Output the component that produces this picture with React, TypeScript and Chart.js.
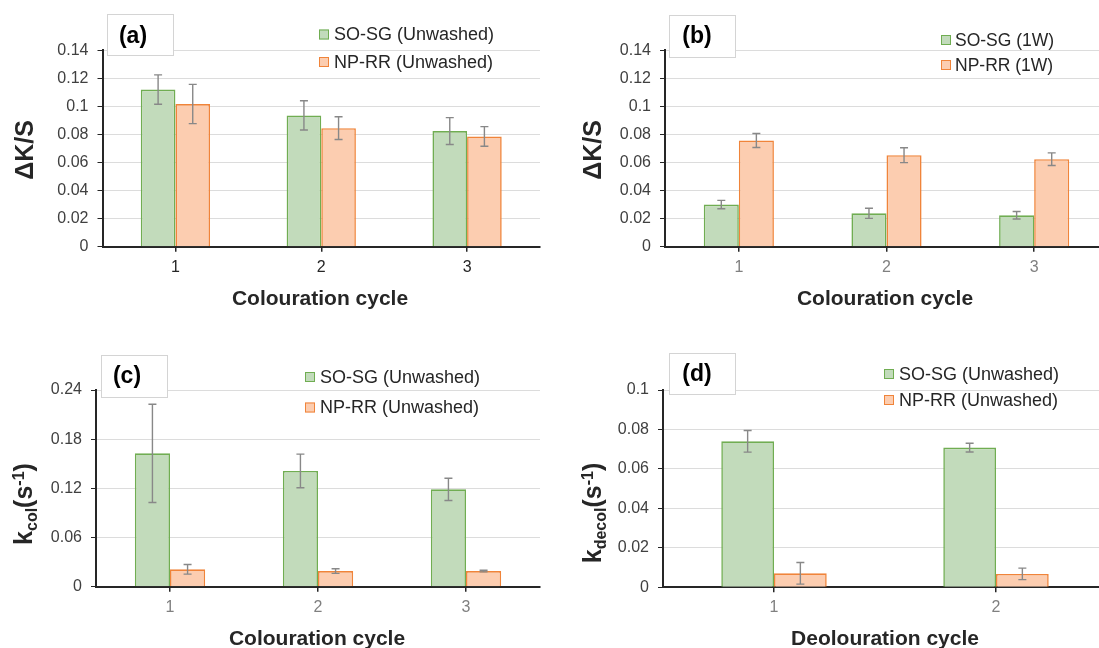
import React, { useEffect, useRef } from 'react';
import { Chart, registerables } from 'chart.js';

Chart.register(...registerables);

const FONT = "'Liberation Sans', Arial, Helvetica, sans-serif";

// ---------- data ----------
const cyclesColouration = ['1', '2', '3'];
const cyclesDecolouration = ['1', '2'];

const ticksKS = [0, 0.02, 0.04, 0.06, 0.08, 0.1, 0.12, 0.14];
const ticksKcol = [0, 0.06, 0.12, 0.18, 0.24];
const ticksKdecol = [0, 0.02, 0.04, 0.06, 0.08, 0.1];

// (a) ΔK/S unwashed
const soSgUnwashedKS = [0.112, 0.0936, 0.0824];
const soSgUnwashedKSErr = [0.0105, 0.0104, 0.0096];
const npRrUnwashedKS = [0.1017, 0.0845, 0.0786];
const npRrUnwashedKSErr = [0.014, 0.0081, 0.007];

// (b) ΔK/S 1W
const soSg1WKS = [0.03, 0.0238, 0.0224];
const soSg1WKSErr = [0.003, 0.0036, 0.0027];
const npRr1WKS = [0.0757, 0.0652, 0.0624];
const npRr1WKSErr = [0.005, 0.0053, 0.0045];

// (c) k_col
const soSgKcol = [0.1627, 0.1412, 0.1188];
const soSgKcolErr = [0.06, 0.0205, 0.0136];
const npRrKcol = [0.0212, 0.0191, 0.0191];
const npRrKcolErr = [0.0059, 0.0028, 0.001];

// (d) k_decol
const soSgKdecol = [0.074, 0.0708];
const soSgKdecolErr = [0.0055, 0.0022];
const npRrKdecol = [0.0071, 0.0068];
const npRrKdecolErr = [0.0055, 0.0029];

// ---------- styles ----------
const GREEN_FILL = '#c2dbbb';
const GREEN_BORDER = '#70ad52';
const ORANGE_FILL = '#fccdb0';
const ORANGE_BORDER = '#f0843a';

type Seg = { text: string; size: number; shift?: number };

type Panel = {
  left: number; top: number; width: number; height: number;
  yW: number; padTop: number; padRight: number; xH: number;
  labels: string[]; yTicks: number[];
  series: { label: string; data: number[]; err: number[]; fill: string; border: string }[];
  xTickColor: string;
  tag: string; tagBox: [number, number, number, number]; tagCx: number; tagCy: number;
  legSqX: number; legTextX: number; legRows: number[]; legSize: number;
  xTitle: string; xTitleCx: number; xTitleBase: number;
  yTitle: Seg[]; yTitleBase: number; yTitleCy: number;
};

const panels: Panel[] = [
  {
    left: 0, top: 0, width: 549, height: 330,
    yW: 102.5, padTop: 50.3, padRight: 9, xH: 83.3,
    labels: cyclesColouration, yTicks: ticksKS,
    series: [
      { label: 'SO-SG (Unwashed)', data: soSgUnwashedKS, err: soSgUnwashedKSErr, fill: GREEN_FILL, border: GREEN_BORDER },
      { label: 'NP-RR (Unwashed)', data: npRrUnwashedKS, err: npRrUnwashedKSErr, fill: ORANGE_FILL, border: ORANGE_BORDER },
    ],
    xTickColor: '#262626',
    tag: '(a)', tagBox: [107, 14, 173, 55], tagCx: 133, tagCy: 37,
    legSqX: 319, legTextX: 334, legRows: [34.5, 62], legSize: 18,
    xTitle: 'Colouration cycle', xTitleCx: 320, xTitleBase: 305,
    yTitle: [{ text: 'ΔK/S', size: 25 }], yTitleBase: 33, yTitleCy: 150,
  },
  {
    left: 549, top: 0, width: 580, height: 330,
    yW: 116, padTop: 50.3, padRight: 21, xH: 83.3,
    labels: cyclesColouration, yTicks: ticksKS,
    series: [
      { label: 'SO-SG (1W)', data: soSg1WKS, err: soSg1WKSErr, fill: GREEN_FILL, border: GREEN_BORDER },
      { label: 'NP-RR (1W)', data: npRr1WKS, err: npRr1WKSErr, fill: ORANGE_FILL, border: ORANGE_BORDER },
    ],
    xTickColor: '#808080',
    tag: '(b)', tagBox: [669, 15, 735, 57], tagCx: 697, tagCy: 37,
    legSqX: 941, legTextX: 955, legRows: [40, 65], legSize: 17.5,
    xTitle: 'Colouration cycle', xTitleCx: 885, xTitleBase: 305,
    yTitle: [{ text: 'ΔK/S', size: 25 }], yTitleBase: 601, yTitleCy: 150,
  },
  {
    left: 0, top: 330, width: 549, height: 318,
    yW: 96, padTop: 60, padRight: 9, xH: 61.3,
    labels: cyclesColouration, yTicks: ticksKcol,
    series: [
      { label: 'SO-SG (Unwashed)', data: soSgKcol, err: soSgKcolErr, fill: GREEN_FILL, border: GREEN_BORDER },
      { label: 'NP-RR (Unwashed)', data: npRrKcol, err: npRrKcolErr, fill: ORANGE_FILL, border: ORANGE_BORDER },
    ],
    xTickColor: '#808080',
    tag: '(c)', tagBox: [101, 355, 167, 397], tagCx: 127, tagCy: 377,
    legSqX: 305, legTextX: 320, legRows: [377, 407.5], legSize: 18,
    xTitle: 'Colouration cycle', xTitleCx: 317, xTitleBase: 645,
    yTitle: [
      { text: 'k', size: 25 }, { text: 'col', size: 16, shift: 5 },
      { text: '(s', size: 25 }, { text: '-1', size: 16, shift: -8 }, { text: ')', size: 25 },
    ],
    yTitleBase: 32, yTitleCy: 504,
  },
  {
    left: 549, top: 330, width: 580, height: 318,
    yW: 114, padTop: 60, padRight: 22, xH: 60.7,
    labels: cyclesDecolouration, yTicks: ticksKdecol,
    series: [
      { label: 'SO-SG (Unwashed)', data: soSgKdecol, err: soSgKdecolErr, fill: GREEN_FILL, border: GREEN_BORDER },
      { label: 'NP-RR (Unwashed)', data: npRrKdecol, err: npRrKdecolErr, fill: ORANGE_FILL, border: ORANGE_BORDER },
    ],
    xTickColor: '#808080',
    tag: '(d)', tagBox: [669, 353, 735, 394], tagCx: 697, tagCy: 375,
    legSqX: 884, legTextX: 899, legRows: [374, 400], legSize: 18,
    xTitle: 'Deolouration cycle', xTitleCx: 885, xTitleBase: 645,
    yTitle: [
      { text: 'k', size: 25 }, { text: 'decol', size: 16, shift: 5 },
      { text: '(s', size: 25 }, { text: '-1', size: 16, shift: -8 }, { text: ')', size: 25 },
    ],
    yTitleBase: 601, yTitleCy: 513,
  },
];

function makeOverlay(p: Panel) {
  return {
    id: 'overlay',
    afterDatasetsDraw(chart: any) {
      const ctx = chart.ctx;
      const yScale = chart.scales.y;
      ctx.save();
      ctx.strokeStyle = '#888888';
      ctx.lineWidth = 1.4;
      p.series.forEach((s, di) => {
        const meta = chart.getDatasetMeta(di);
        meta.data.forEach((bar: any, i: number) => {
          const v = s.data[i];
          const e = s.err[i];
          const x = bar.x;
          const yHi = yScale.getPixelForValue(v + e);
          const yLo = yScale.getPixelForValue(v - e);
          ctx.beginPath();
          ctx.moveTo(x, yHi); ctx.lineTo(x, yLo);
          ctx.moveTo(x - 4, yHi); ctx.lineTo(x + 4, yHi);
          ctx.moveTo(x - 4, yLo); ctx.lineTo(x + 4, yLo);
          ctx.stroke();
        });
      });
      ctx.restore();
    },
    afterDraw(chart: any) {
      const ctx = chart.ctx;
      const ox = p.left;
      const oy = p.top;
      ctx.save();
      // panel tag box
      const [bx0, by0, bx1, by1] = p.tagBox;
      ctx.fillStyle = '#ffffff';
      ctx.fillRect(bx0 - ox, by0 - oy, bx1 - bx0, by1 - by0);
      ctx.strokeStyle = '#d4d4d4';
      ctx.lineWidth = 1;
      ctx.strokeRect(bx0 - ox + 0.5, by0 - oy + 0.5, bx1 - bx0, by1 - by0);
      ctx.fillStyle = '#000000';
      ctx.font = `bold 23px ${FONT}`;
      ctx.textAlign = 'center';
      ctx.textBaseline = 'middle';
      ctx.fillText(p.tag, p.tagCx - ox, p.tagCy - oy);

      // legend
      ctx.font = `${p.legSize}px ${FONT}`;
      ctx.textAlign = 'left';
      ctx.textBaseline = 'middle';
      p.series.forEach((s, i) => {
        const cy = p.legRows[i] - oy;
        ctx.fillStyle = s.fill;
        ctx.fillRect(p.legSqX - ox, cy - 5, 10, 10);
        ctx.strokeStyle = s.border;
        ctx.lineWidth = 1;
        ctx.strokeRect(p.legSqX - ox + 0.5, cy - 4.5, 9, 9);
        ctx.fillStyle = '#262626';
        ctx.fillText(s.label, p.legTextX - ox, cy + 1);
      });

      // x title
      ctx.font = `bold 21px ${FONT}`;
      ctx.textAlign = 'center';
      ctx.textBaseline = 'alphabetic';
      ctx.fillStyle = '#262626';
      ctx.fillText(p.xTitle, p.xTitleCx - ox, p.xTitleBase - oy);

      // y title (rotated, with sub/superscripts)
      ctx.translate(p.yTitleBase - ox, p.yTitleCy - oy);
      ctx.rotate(-Math.PI / 2);
      let total = 0;
      const widths = p.yTitle.map((sg) => {
        ctx.font = `bold ${sg.size}px ${FONT}`;
        const w = ctx.measureText(sg.text).width;
        total += w;
        return w;
      });
      let x = -total / 2;
      ctx.textAlign = 'left';
      p.yTitle.forEach((sg, i) => {
        ctx.font = `bold ${sg.size}px ${FONT}`;
        ctx.fillText(sg.text, x, sg.shift || 0);
        x += widths[i];
      });
      ctx.restore();
    },
  };
}

function PanelChart({ p }: { p: Panel }) {
  const ref = useRef<HTMLCanvasElement>(null);
  useEffect(() => {
    if (!ref.current) return;
    const tickFmt = (v: any) => String(Number(Number(v).toFixed(3)));
    const chart = new Chart(ref.current, {
      type: 'bar',
      data: {
        labels: p.labels,
        datasets: p.series.map((s) => ({
          label: s.label,
          data: s.data,
          backgroundColor: s.fill,
          borderColor: s.border,
          borderWidth: 1.6,
          categoryPercentage: 0.475,
          barPercentage: 1,
        })),
      },
      options: {
        animation: false,
        responsive: false,
        devicePixelRatio: 1,
        layout: { padding: { top: p.padTop, right: p.padRight, left: 0, bottom: 0 } },
        plugins: { legend: { display: false }, tooltip: { enabled: false } },
        scales: {
          x: {
            offset: true,
            afterFit: (s: any) => { s.height = p.xH; },
            grid: { display: true, drawOnChartArea: false, offset: false, tickColor: '#262626', tickLength: 5, lineWidth: 1.5 },
            border: { color: '#262626', width: 2 },
            ticks: { font: { family: FONT, size: 16 }, color: p.xTickColor, padding: 6 },
          },
          y: {
            min: 0,
            max: p.yTicks[p.yTicks.length - 1],
            afterFit: (s: any) => { s.width = p.yW; },
            afterBuildTicks: (s: any) => { s.ticks = p.yTicks.map((v) => ({ value: v })); },
            grid: { color: '#dcdcdc', lineWidth: 1, tickColor: '#262626', tickLength: 5 },
            border: { color: '#262626', width: 2 },
            ticks: { font: { family: FONT, size: 16 }, color: '#404040', padding: 9, callback: tickFmt },
          },
        },
      },
      plugins: [makeOverlay(p)],
    } as any);
    return () => chart.destroy();
  }, [p]);
  return (
    <div style={{ position: 'absolute', left: p.left, top: p.top, width: p.width, height: p.height }}>
      <canvas ref={ref} width={p.width} height={p.height} style={{ display: 'block' }} />
    </div>
  );
}

export default function App() {
  return (
    <div style={{ position: 'absolute', left: 0, top: 0, width: 1099, height: 648, overflow: 'hidden', background: '#ffffff' }}>
      {panels.map((p, i) => (
        <PanelChart key={i} p={p} />
      ))}
    </div>
  );
}
